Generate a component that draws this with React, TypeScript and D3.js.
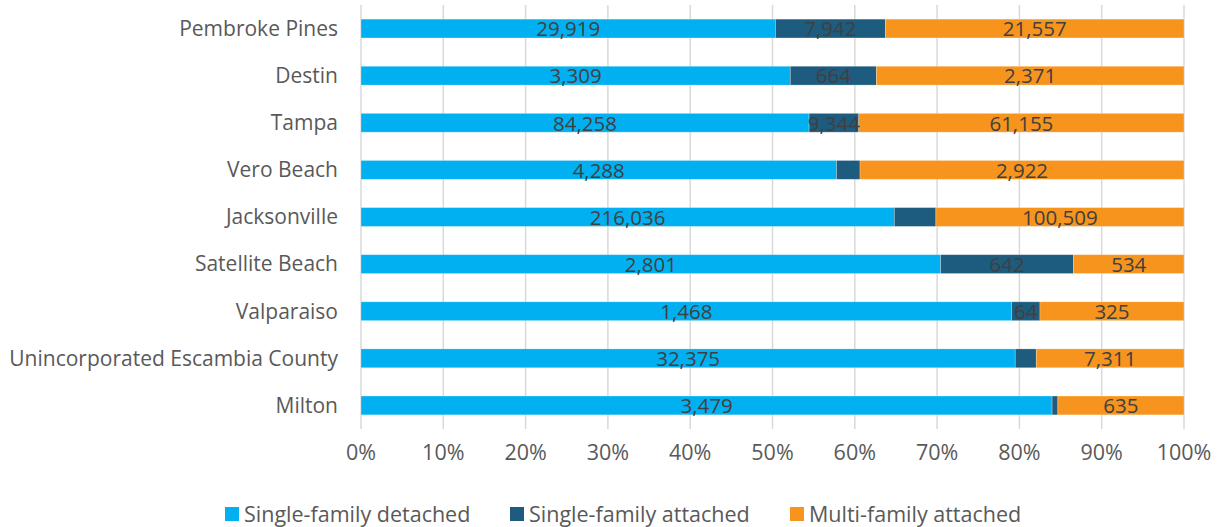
import React from 'react'
import * as d3 from 'd3'

// cities, top to bottom
const cities = [
  'Pembroke Pines',
  'Destin',
  'Tampa',
  'Vero Beach',
  'Jacksonville',
  'Satellite Beach',
  'Valparaiso',
  'Unincorporated Escambia County',
  'Milton',
]
const detached = [29919, 3309, 84258, 4288, 216036, 2801, 1468, 32375, 3479]
const attached = [7942, 664, 9344, 212, 16840, 642, 64, 1040, 29]
const multi = [21557, 2371, 61155, 2922, 100509, 534, 325, 7311, 635]
// the source chart leaves some of the small attached labels out
const attachedLabeled = [true, true, true, false, false, true, true, false, false]

const seriesNames = ['Single-family detached', 'Single-family attached', 'Multi-family attached']
const seriesColors = ['#00B0F0', '#1D5B7F', '#F7941D']
const ticks = [0, 0.1, 0.2, 0.3, 0.4, 0.5, 0.6, 0.7, 0.8, 0.9, 1]

const W = 1217
const H = 527
const FONT = '"Open Sans", Lato, sans-serif'
const AXIS_TEXT = '#595959'
const LABEL_TEXT = '#404040'

export default function App() {
  const x = d3.scaleLinear().domain([0, 1]).range([361, 1184])
  const y = d3.scaleBand().domain(cities).range([5, 429]).paddingInner(0.6).paddingOuter(0.3)
  const fmt = d3.format(',')
  const pct = d3.format('.0%')

  const rows = cities.map((c, i) => {
    const vals = [detached[i], attached[i], multi[i]]
    const total = d3.sum(vals)
    let acc = 0
    const segs = vals.map((v, k) => {
      const s = { k, v, x0: acc / total, x1: (acc + v) / total, show: k !== 1 || attachedLabeled[i] }
      acc += v
      return s
    })
    return { c, segs }
  })

  const legendX = [225, 510, 790]

  return (
    <svg width={W} height={H} style={{ position: 'absolute', left: 0, top: 0, fontFamily: FONT }}>
      <rect width={W} height={H} fill="#fff" />
      {ticks.map(t => (
        <g key={t}>
          <line x1={x(t)} x2={x(t)} y1={5} y2={429} stroke="#D9D9D9" strokeWidth={1.5} />
          <text x={x(t)} y={460} textAnchor="middle" fontSize={21.5} fill={AXIS_TEXT}>{pct(t)}</text>
        </g>
      ))}
      {rows.map(r => {
        const by = y(r.c)!
        const bh = y.bandwidth()
        return (
          <g key={r.c}>
            <text x={338} y={by + bh / 2} dy="0.35em" textAnchor="end" fontSize={21} fill={AXIS_TEXT}>{r.c}</text>
            {r.segs.map(s => (
              <rect key={s.k} x={x(s.x0)} y={by} width={x(s.x1) - x(s.x0)} height={bh}
                fill={seriesColors[s.k]} stroke="#ffffff" strokeOpacity={0.35} strokeWidth={0.75} />
            ))}
            {r.segs.filter(s => s.show).map(s => (
              <text key={'l' + s.k} x={(x(s.x0) + x(s.x1)) / 2} y={by + bh / 2} dy="0.38em"
                textAnchor="middle" fontSize={20.5} fill={LABEL_TEXT}>{fmt(s.v)}</text>
            ))}
          </g>
        )
      })}
      {seriesNames.map((n, k) => (
        <g key={n} transform={`translate(${legendX[k]},514)`}>
          <rect x={0} y={-7} width={14} height={14} fill={seriesColors[k]} />
          <text x={19} y={0} dy="0.35em" fontSize={21.5} fill={AXIS_TEXT}>{n}</text>
        </g>
      ))}
    </svg>
  )
}
